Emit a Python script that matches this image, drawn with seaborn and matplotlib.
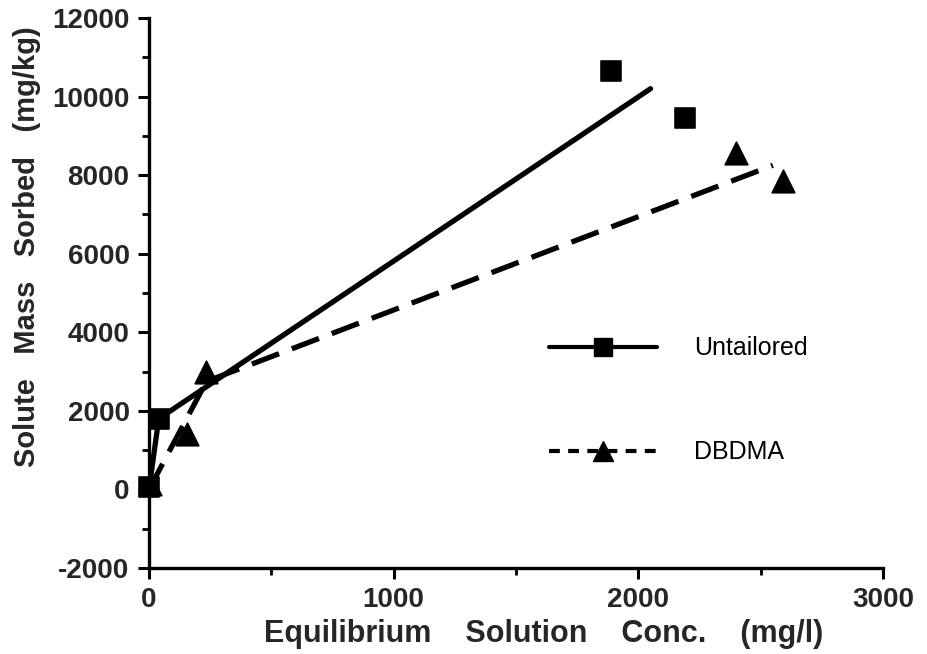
import matplotlib
matplotlib.use("Agg")
import matplotlib.pyplot as plt
import seaborn as sns
import pandas as pd
from matplotlib.ticker import MultipleLocator
from matplotlib.lines import Line2D

# Measured sorption data (mg/l, mg/kg)
untailored_conc = [0, 40, 1890, 2190]
untailored_sorbed = [50, 1800, 10650, 9450]
dbdma_conc = [5, 155, 235, 2400, 2590]
dbdma_sorbed = [150, 1420, 2980, 8560, 7850]

# Piecewise linear fits drawn through the isotherms
untailored_fit_x = [0, 40, 2050]
untailored_fit_y = [0, 1800, 10200]
dbdma_fit_x = [0, 235, 2550]
dbdma_fit_y = [0, 2750, 8250]

sns.set_theme(style="ticks")
plt.rcParams["font.family"] = ["Liberation Sans", "DejaVu Sans"]
plt.rcParams["axes.unicode_minus"] = False

fig = plt.figure(figsize=(9.27, 6.54), dpi=100)
ax = fig.add_axes([0.1607, 0.1315, 0.7918, 0.841])

pts_u = pd.DataFrame({"x": untailored_conc, "y": untailored_sorbed})
pts_d = pd.DataFrame({"x": dbdma_conc, "y": dbdma_sorbed})
fit_u = pd.DataFrame({"x": untailored_fit_x, "y": untailored_fit_y})
fit_d = pd.DataFrame({"x": dbdma_fit_x, "y": dbdma_fit_y})

sns.lineplot(data=fit_u, x="x", y="y", ax=ax, color="black", lw=3.8,
             sort=False, estimator=None, clip_on=False)
sns.lineplot(data=fit_d, x="x", y="y", ax=ax, color="black", lw=3.8,
             sort=False, estimator=None, clip_on=False)
ax.lines[-1].set_dashes([5.5, 2.6])
sns.scatterplot(data=pts_u, x="x", y="y", ax=ax, marker="s", s=210,
                color="black", edgecolor="black", clip_on=False, zorder=5)
sns.scatterplot(data=pts_d, x="x", y="y", ax=ax, marker="^", s=260,
                color="black", edgecolor="black", clip_on=False, zorder=5)

ax.set_xlim(0, 3000)
ax.set_ylim(-2000, 12000)
ax.xaxis.set_major_locator(MultipleLocator(1000))
ax.xaxis.set_minor_locator(MultipleLocator(500))
ax.yaxis.set_major_locator(MultipleLocator(2000))
ax.yaxis.set_minor_locator(MultipleLocator(1000))
sns.despine(ax=ax)
for side in ("left", "bottom"):
    ax.spines[side].set_linewidth(2.4)
    ax.spines[side].set_color("black")
ax.tick_params(which="major", length=8, width=2.2, color="black",
               labelsize=20, pad=6)
ax.tick_params(which="minor", length=5, width=2.0, color="black")
for lab in ax.get_xticklabels() + ax.get_yticklabels():
    lab.set_fontweight("bold")

ax.set_xlabel("Equilibrium    Solution    Conc.    (mg/l)", fontsize=22,
              fontweight="bold")
ax.xaxis.set_label_coords(0.537, -0.093)
ax.set_ylabel("Solute   Mass   Sorbed   (mg/kg)", fontsize=21,
              fontweight="bold")
ax.yaxis.set_label_coords(-0.147, 0.585)

# Legend handles
h_u = Line2D([], [], color="black", lw=3.0, marker="s", markersize=13)
h_d = Line2D([], [], color="black", lw=3.0, marker="^", markersize=14,
             dashes=[2.6, 2.0])
leg = ax.legend([h_u, h_d], ["Untailored", "DBDMA"], loc="upper left",
                bbox_to_anchor=(0.515, 0.462), frameon=False, fontsize=18,
                handlelength=4.3, handletextpad=1.5, labelspacing=3.2)
for t in leg.get_texts():
    t.set_color("black")

fig.savefig("out.png", dpi=100)
